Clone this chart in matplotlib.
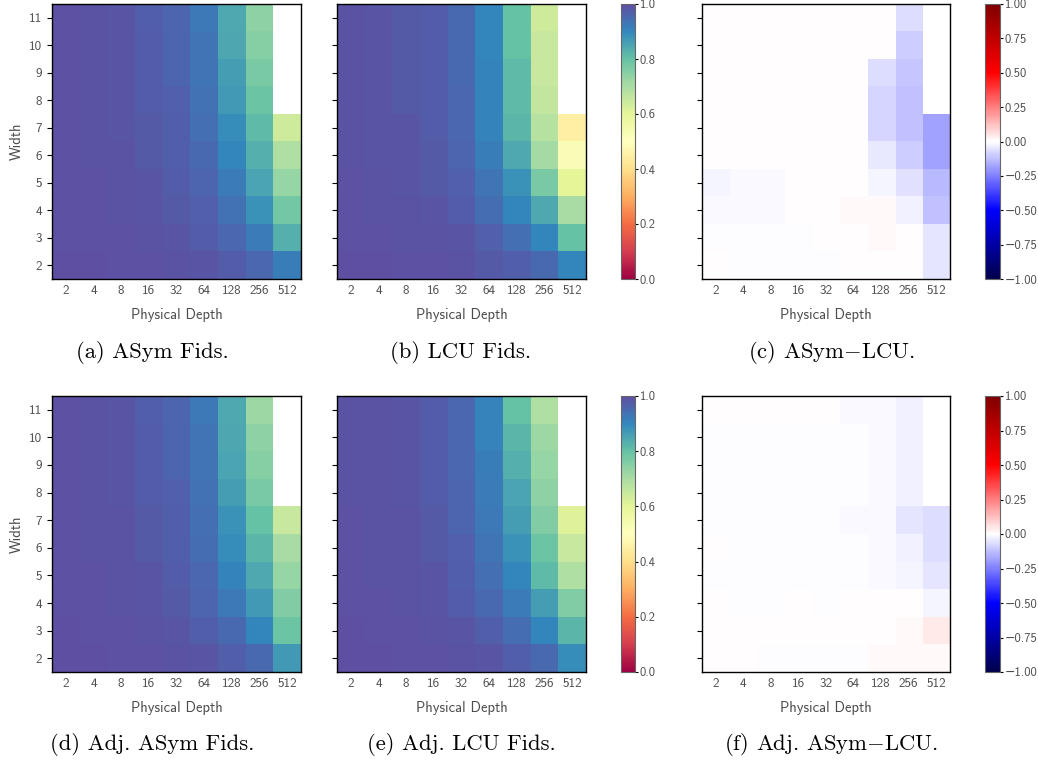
import matplotlib
matplotlib.use("Agg")
import matplotlib.pyplot as plt
import numpy as np

plt.rcParams['mathtext.fontset'] = 'cm'
plt.rcParams['axes.unicode_minus'] = True

depths = ['2', '4', '8', '16', '32', '64', '128', '256', '512']
widths = ['11', '10', '9', '8', '7', '6', '5', '4', '3', '2']  # top to bottom
nan = np.nan

# fidelities, rows = width 11 ... 2, cols = depth 2 ... 512
asym_fid = [
    [0.995, 0.990, 0.985, 0.970, 0.960, 0.925, 0.840, 0.740, nan],
    [0.995, 0.990, 0.985, 0.975, 0.960, 0.930, 0.845, 0.750, nan],
    [0.995, 0.990, 0.985, 0.975, 0.960, 0.930, 0.860, 0.770, nan],
    [0.995, 0.990, 0.985, 0.975, 0.965, 0.935, 0.870, 0.790, nan],
    [0.995, 0.990, 0.985, 0.980, 0.970, 0.940, 0.890, 0.810, 0.640],
    [0.995, 0.990, 0.990, 0.980, 0.970, 0.950, 0.900, 0.830, 0.690],
    [0.995, 0.995, 0.990, 0.985, 0.975, 0.960, 0.920, 0.850, 0.730],
    [0.995, 0.995, 0.990, 0.985, 0.980, 0.965, 0.935, 0.880, 0.780],
    [0.995, 0.995, 0.995, 0.990, 0.985, 0.975, 0.955, 0.920, 0.830],
    [0.997, 0.997, 0.995, 0.995, 0.990, 0.985, 0.975, 0.955, 0.915],
]
lcu_fid = [
    [0.990, 0.985, 0.980, 0.975, 0.950, 0.900, 0.800, 0.640, nan],
    [0.990, 0.985, 0.980, 0.975, 0.950, 0.900, 0.800, 0.650, nan],
    [0.990, 0.985, 0.980, 0.975, 0.950, 0.905, 0.810, 0.650, nan],
    [0.990, 0.985, 0.980, 0.975, 0.955, 0.905, 0.810, 0.660, nan],
    [0.990, 0.985, 0.985, 0.975, 0.955, 0.905, 0.820, 0.680, 0.450],
    [0.990, 0.985, 0.985, 0.980, 0.960, 0.915, 0.840, 0.710, 0.520],
    [0.995, 0.990, 0.985, 0.980, 0.965, 0.930, 0.880, 0.770, 0.600],
    [0.995, 0.990, 0.990, 0.985, 0.975, 0.945, 0.900, 0.840, 0.700],
    [0.995, 0.995, 0.990, 0.990, 0.985, 0.965, 0.940, 0.900, 0.800],
    [0.997, 0.997, 0.995, 0.995, 0.990, 0.980, 0.970, 0.950, 0.900],
]
asym_lcu_diff = [
    [0.000, 0.000, 0.000, 0.000, 0.000, 0.000, 0.000, -0.070, nan],
    [0.000, 0.000, 0.000, 0.000, 0.000, 0.000, 0.000, -0.100, nan],
    [0.000, 0.000, 0.000, 0.000, 0.000, 0.000, -0.070, -0.110, nan],
    [0.000, 0.000, 0.000, 0.000, 0.000, 0.000, -0.080, -0.120, nan],
    [0.000, 0.000, 0.000, 0.000, 0.000, 0.000, -0.080, -0.120, -0.180],
    [0.000, 0.000, 0.000, 0.004, 0.004, 0.004, -0.040, -0.100, -0.180],
    [-0.020, -0.010, -0.010, 0.004, 0.004, 0.004, -0.020, -0.060, -0.140],
    [-0.010, -0.008, -0.008, 0.004, 0.004, 0.008, 0.010, -0.030, -0.120],
    [-0.005, -0.005, -0.005, -0.005, 0.004, 0.004, 0.010, 0.000, -0.050],
    [0.005, -0.005, -0.005, -0.005, -0.005, 0.000, 0.000, 0.000, -0.050],
]
adj_asym_fid = [
    [0.995, 0.990, 0.985, 0.970, 0.960, 0.925, 0.840, 0.720, nan],
    [0.995, 0.990, 0.985, 0.975, 0.960, 0.930, 0.845, 0.740, nan],
    [0.995, 0.990, 0.985, 0.975, 0.960, 0.930, 0.850, 0.750, nan],
    [0.995, 0.990, 0.985, 0.975, 0.965, 0.935, 0.860, 0.770, nan],
    [0.995, 0.990, 0.990, 0.980, 0.970, 0.940, 0.880, 0.800, 0.650],
    [0.995, 0.990, 0.990, 0.980, 0.970, 0.945, 0.890, 0.820, 0.700],
    [0.995, 0.995, 0.990, 0.985, 0.975, 0.955, 0.905, 0.840, 0.730],
    [0.995, 0.995, 0.990, 0.985, 0.980, 0.960, 0.925, 0.870, 0.760],
    [0.997, 0.995, 0.995, 0.990, 0.985, 0.970, 0.950, 0.900, 0.790],
    [0.997, 0.997, 0.995, 0.995, 0.992, 0.985, 0.970, 0.950, 0.870],
]
adj_lcu_fid = [
    [0.990, 0.990, 0.985, 0.975, 0.955, 0.910, 0.800, 0.690, nan],
    [0.990, 0.990, 0.985, 0.975, 0.955, 0.910, 0.820, 0.720, nan],
    [0.990, 0.990, 0.985, 0.975, 0.955, 0.915, 0.830, 0.730, nan],
    [0.990, 0.990, 0.985, 0.975, 0.960, 0.920, 0.850, 0.740, nan],
    [0.995, 0.990, 0.990, 0.980, 0.960, 0.925, 0.860, 0.760, 0.610],
    [0.995, 0.990, 0.990, 0.980, 0.965, 0.930, 0.880, 0.790, 0.650],
    [0.995, 0.990, 0.990, 0.985, 0.970, 0.940, 0.900, 0.810, 0.690],
    [0.995, 0.995, 0.990, 0.985, 0.975, 0.950, 0.920, 0.860, 0.760],
    [0.997, 0.995, 0.995, 0.990, 0.985, 0.970, 0.945, 0.900, 0.820],
    [0.997, 0.997, 0.995, 0.995, 0.990, 0.985, 0.970, 0.950, 0.890],
]
adj_diff = [
    [0.000, 0.000, 0.000, 0.000, 0.000, -0.010, -0.010, -0.030, nan],
    [-0.004, -0.004, -0.004, -0.004, -0.004, -0.004, -0.010, -0.030, nan],
    [-0.004, -0.004, -0.004, -0.004, -0.004, -0.004, -0.010, -0.030, nan],
    [-0.004, -0.004, -0.004, -0.004, -0.004, -0.004, -0.010, -0.030, nan],
    [-0.004, -0.004, -0.004, -0.004, -0.004, -0.015, -0.010, -0.050, -0.070],
    [0.005, -0.004, -0.004, -0.004, -0.004, -0.004, -0.010, -0.030, -0.070],
    [-0.004, -0.004, -0.004, -0.004, -0.004, -0.004, -0.010, -0.020, -0.050],
    [0.005, -0.004, -0.004, 0.005, -0.004, 0.000, 0.000, 0.000, -0.020],
    [0.005, 0.005, 0.005, 0.005, 0.005, 0.000, 0.000, 0.010, 0.040],
    [0.005, 0.005, -0.004, -0.004, -0.004, -0.004, 0.010, 0.010, 0.010],
]

captions = ['(a) ASym Fids.', '(b) LCU Fids.', r'(c) ASym$-$LCU.',
            '(d) Adj. ASym Fids.', '(e) Adj. LCU Fids.', r'(f) Adj. ASym$-$LCU.']

W, H = 1038, 761
fig = plt.figure(figsize=(W / 100, H / 100), dpi=100)

sans = ['cmss10', 'DejaVu Sans']
tcol = '0.3'


def px(l, t, r, b):
    return [l / W, 1 - b / H, (r - l) / W, (b - t) / H]


def heat(rect, data, cmap, vmin, vmax, ylab):
    ax = fig.add_axes(px(*rect))
    im = ax.imshow(np.array(data), cmap=cmap, vmin=vmin, vmax=vmax,
                   aspect='auto', interpolation='nearest')
    ax.set_xticks(range(len(depths)))
    ax.set_xticklabels(depths, family=sans, fontsize=9.5, color=tcol)
    ax.set_yticks(range(len(widths)))
    if ylab:
        ax.set_yticklabels(widths, family=sans, fontsize=9.5, color=tcol)
        ax.set_ylabel('Width', family=sans, fontsize=10.5, color=tcol)
    else:
        ax.set_yticklabels([])
    ax.tick_params(axis='x', length=0, pad=4)
    ax.tick_params(axis='y', length=3.5, width=0.8)
    ax.set_xlabel('Physical Depth', family=sans, fontsize=10.5, color=tcol, labelpad=8)
    for s in ax.spines.values():
        s.set_color('black')
        s.set_linewidth(1.0)
    return im


def cbar(rect, im, ticks, fmt):
    cax = fig.add_axes(px(*rect))
    cb = fig.colorbar(im, cax=cax, ticks=ticks)
    cb.ax.set_yticklabels([fmt.format(t).replace('-', '\u2212') for t in ticks],
                          family=sans, fontsize=9, color=tcol)
    cb.ax.tick_params(length=2.5, width=0.8, pad=1)
    cb.outline.set_edgecolor('0.4')
    cb.outline.set_linewidth(0.8)


rows = [(4, 279), (396, 672)]
cols = [(52, 301), (337, 586), (702, 950)]
sets = [[asym_fid, lcu_fid, asym_lcu_diff], [adj_asym_fid, adj_lcu_fid, adj_diff]]
cap_y = [352, 745]
cap_x = [152, 461, 831]

for r, (t, b) in enumerate(rows):
    for c, (l, rr) in enumerate(cols):
        if c < 2:
            im = heat((l, t, rr, b), sets[r][c], 'Spectral', 0, 1, c == 0)
        else:
            im = heat((l, t, rr, b), sets[r][c], 'seismic', -1, 1, False)
        if c == 1:
            cbar((621, t, 635, b), im, [0, 0.2, 0.4, 0.6, 0.8, 1.0], '{:.1f}')
        if c == 2:
            cbar((985, t, 1000, b), im, [-1, -0.75, -0.5, -0.25, 0, 0.25, 0.5, 0.75, 1.0], '{:.2f}')
        fig.text(cap_x[c] / W, 1 - cap_y[r] / H, captions[r * 3 + c],
                 family=['cmr10', 'DejaVu Serif'], fontsize=16.3,
                 ha='center', va='center')

fig.savefig('out.png', dpi=100)
